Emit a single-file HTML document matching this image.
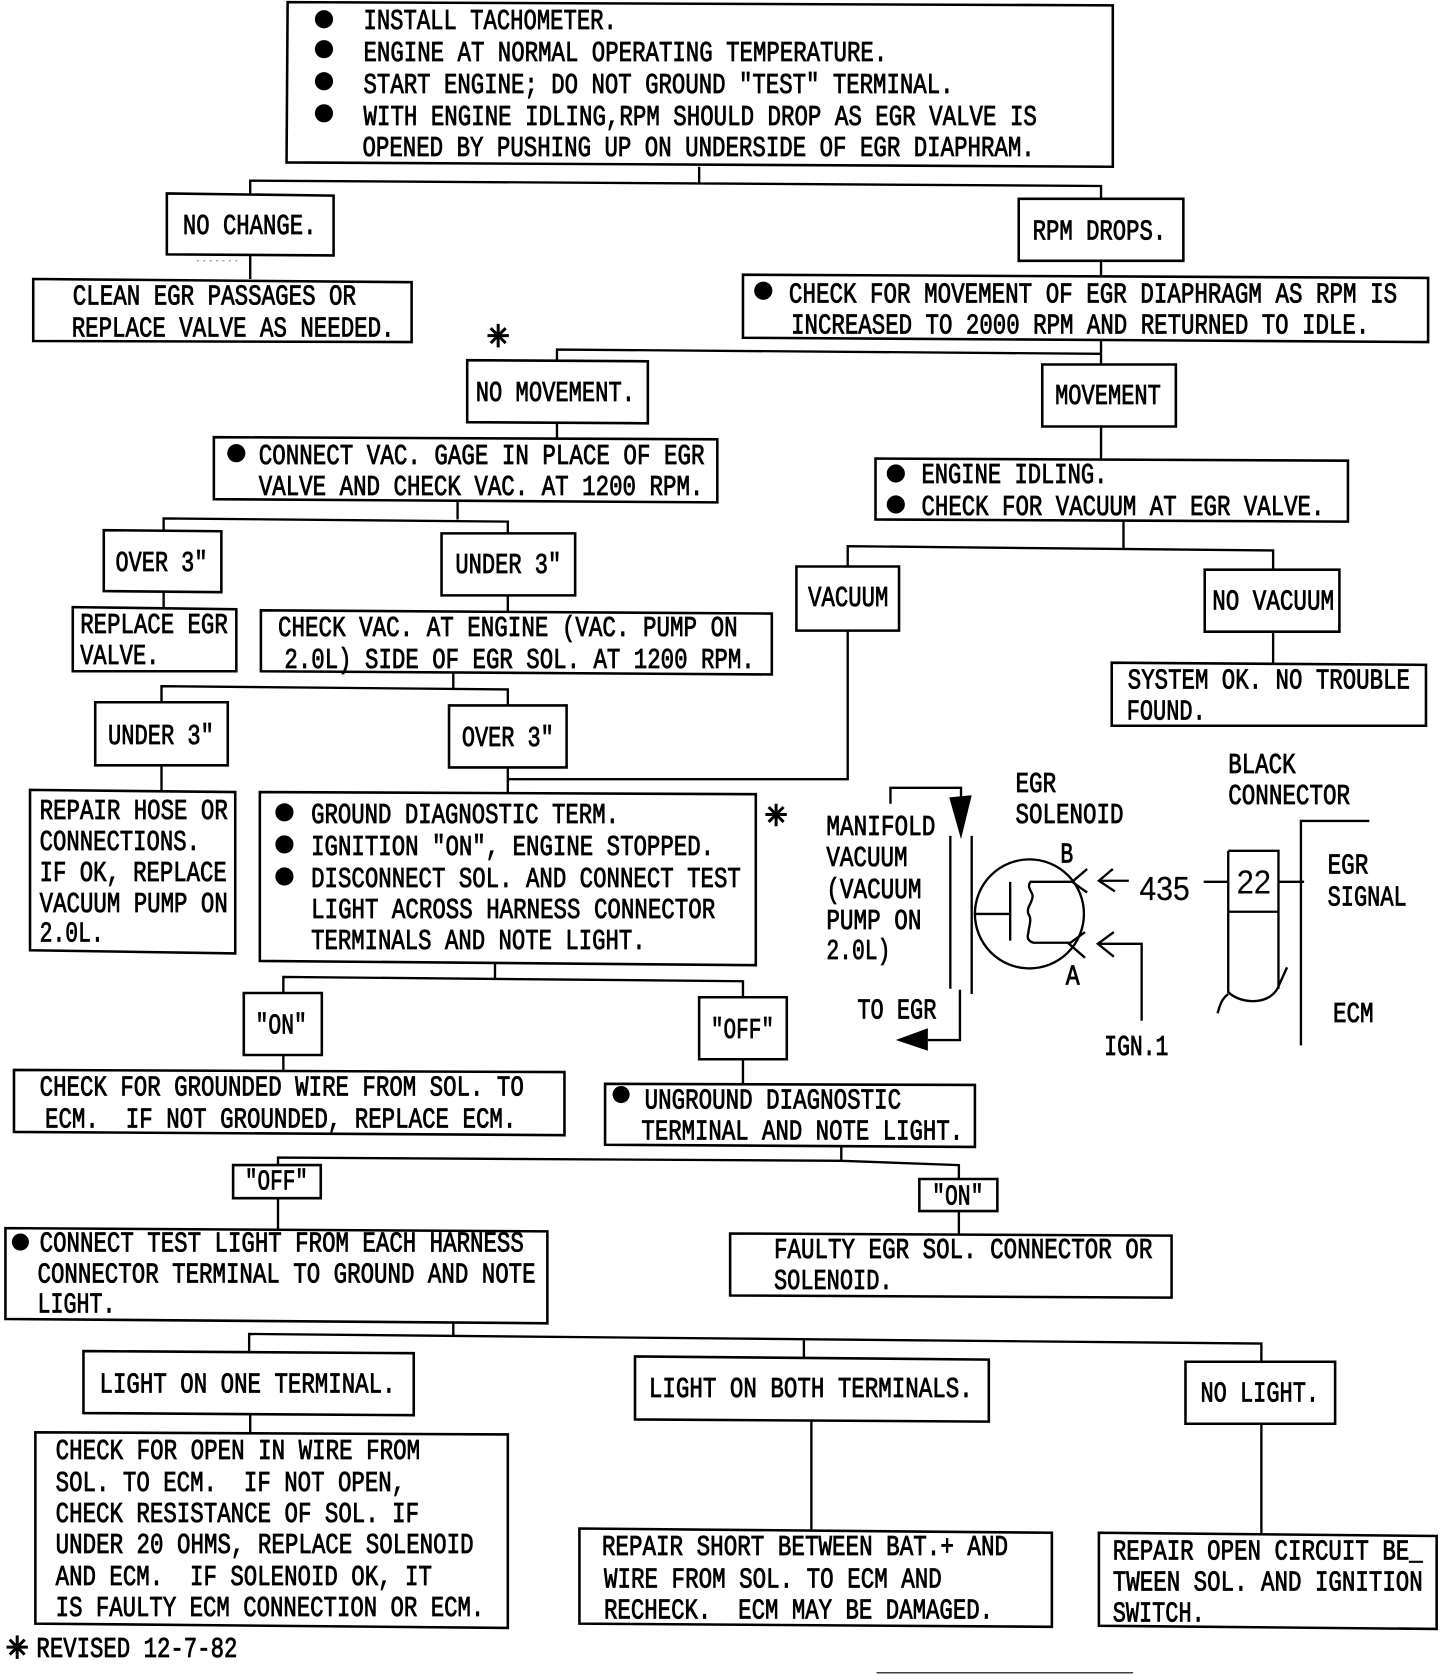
<!DOCTYPE html>
<html><head><meta charset="utf-8"><style>
html,body{margin:0;padding:0;background:#fff}
svg{display:block}
text{font-family:"Liberation Mono",monospace;font-size:27px;fill:#000;stroke:#000;stroke-width:.8}
.b{fill:#fff;stroke:#000;stroke-width:2.4}
.l{fill:none;stroke:#000;stroke-width:2.2}
</style></head><body>
<svg xmlns="http://www.w3.org/2000/svg" width="1456" height="1676" viewBox="0 0 1362 1568">
<rect width="1362" height="1568" fill="#fff"/>
<path class="l" d="M654 156V171M234 181V169L1030 174V186M234 238V261M1030 244V258M1030 318V341M521 337V327L1030 331M521 395V410M428 469V486M153 497V485L475 488V499M1030 399V430M1051 487V513M793 530V511L1191 515V533M793 590V729H475M475 718V743M1191 591V621M153 554V568M475 557V572M424 630V644M151 657V642L475 645V660M151 716V740M463 901V916M265 929V914L695 918V933M265 987V1002M695 991V1014M787 1072V1087M260 1090V1083L787 1086L897 1090V1103M260 1121V1150M897 1133V1155M424 1236V1250M233 1264V1248L1180 1257V1274M752 1252V1270M234 1323V1341M759 1329V1431M1180 1332V1435"/>
<g class="b">
<polygon points="269,2 1041,5 1041,156 268,152"/>
<polygon points="156,181 312,183 312,239 156,238"/>
<polygon points="31,261 385,264 385,320 31,319"/>
<polygon points="953,186 1107,186 1107,244 953,244"/>
<polygon points="695,257 1336,260 1336,320 695,316"/>
<polygon points="437,337 606,338 606,396 437,395"/>
<polygon points="975,341 1100,341 1100,399 975,399"/>
<polygon points="200,409 671,411 671,470 200,467"/>
<polygon points="819,429 1261,431 1261,488 819,486"/>
<polygon points="97,496 207,497 207,554 97,553"/>
<polygon points="413,499 538,499 538,557 413,557"/>
<polygon points="745,530 841,530 841,590 745,590"/>
<polygon points="1127,533 1253,533 1253,591 1127,591"/>
<polygon points="68,568 221,570 221,628 68,628"/>
<polygon points="244,571 722,574 722,631 244,628"/>
<polygon points="1040,620 1334,622 1334,679 1040,679"/>
<polygon points="89,657 213,657 213,716 89,716"/>
<polygon points="420,660 530,660 530,718 420,718"/>
<polygon points="28,739 220,741 220,892 28,889"/>
<polygon points="243,741 707,743 707,903 243,899"/>
<polygon points="228,929 301,929 301,987 228,987"/>
<polygon points="654,933 736,933 736,991 654,991"/>
<polygon points="13,1001 528,1003 528,1062 13,1059"/>
<polygon points="566,1014 912,1015 912,1073 566,1071"/>
<polygon points="218,1090 300,1090 300,1121 218,1121"/>
<polygon points="860,1103 933,1103 933,1133 860,1133"/>
<polygon points="5,1149 512,1152 512,1238 5,1234"/>
<polygon points="683,1154 1096,1156 1096,1214 683,1212"/>
<polygon points="78,1264 387,1266 387,1324 78,1322"/>
<polygon points="594,1269 925,1272 925,1330 594,1328"/>
<polygon points="1109,1274 1249,1274 1249,1332 1109,1332"/>
<polygon points="33,1340 475,1342 475,1523 33,1519"/>
<polygon points="542,1430 984,1434 984,1522 542,1519"/>
<polygon points="1028,1434 1344,1437 1344,1524 1028,1521"/>
</g>
<g fill="#000">
<circle cx="303" cy="18" r="8.5"/><circle cx="303" cy="46" r="8.5"/><circle cx="303" cy="76" r="8.5"/><circle cx="303" cy="106" r="8.5"/>
<circle cx="714" cy="272" r="8.5"/><circle cx="221" cy="424" r="8.5"/><circle cx="838" cy="443" r="8.5"/><circle cx="838" cy="472" r="8.5"/>
<circle cx="266" cy="760" r="8.5"/><circle cx="266" cy="790" r="8.5"/><circle cx="266" cy="820" r="8.5"/><circle cx="581" cy="1024" r="8"/><circle cx="19" cy="1162" r="8"/>
</g>
<g>
<text x="340" y="27" textLength="237" lengthAdjust="spacingAndGlyphs">INSTALL TACHOMETER.</text>
<text x="340" y="57" textLength="490" lengthAdjust="spacingAndGlyphs">ENGINE AT NORMAL OPERATING TEMPERATURE.</text>
<text x="340" y="87" textLength="552" lengthAdjust="spacingAndGlyphs">START ENGINE; DO NOT GROUND "TEST" TERMINAL.</text>
<text x="340" y="117" textLength="630" lengthAdjust="spacingAndGlyphs">WITH ENGINE IDLING,RPM SHOULD DROP AS EGR VALVE IS</text>
<text x="339" y="146" textLength="629" lengthAdjust="spacingAndGlyphs">OPENED BY PUSHING UP ON UNDERSIDE OF EGR DIAPHRAM.</text>
<text x="171" y="219" textLength="125" lengthAdjust="spacingAndGlyphs">NO CHANGE.</text>
<text x="966" y="224" textLength="125" lengthAdjust="spacingAndGlyphs">RPM DROPS.</text>
<text x="68" y="285" textLength="265" lengthAdjust="spacingAndGlyphs">CLEAN EGR PASSAGES OR</text>
<text x="67" y="315" textLength="302" lengthAdjust="spacingAndGlyphs">REPLACE VALVE AS NEEDED.</text>
<text x="738" y="283" textLength="569" lengthAdjust="spacingAndGlyphs">CHECK FOR MOVEMENT OF EGR DIAPHRAGM AS RPM IS</text>
<text x="740" y="312" textLength="541" lengthAdjust="spacingAndGlyphs">INCREASED TO 2000 RPM AND RETURNED TO IDLE.</text>
<text x="445" y="375" textLength="149" lengthAdjust="spacingAndGlyphs">NO MOVEMENT.</text>
<text x="987" y="378" textLength="99" lengthAdjust="spacingAndGlyphs">MOVEMENT</text>
<text x="242" y="434" textLength="417" lengthAdjust="spacingAndGlyphs">CONNECT VAC. GAGE IN PLACE OF EGR</text>
<text x="242" y="463" textLength="416" lengthAdjust="spacingAndGlyphs">VALVE AND CHECK VAC. AT 1200 RPM.</text>
<text x="862" y="452" textLength="174" lengthAdjust="spacingAndGlyphs">ENGINE IDLING.</text>
<text x="862" y="482" textLength="377" lengthAdjust="spacingAndGlyphs">CHECK FOR VACUUM AT EGR VALVE.</text>
<text x="108" y="534" textLength="86" lengthAdjust="spacingAndGlyphs">OVER 3"</text>
<text x="426" y="536" textLength="99" lengthAdjust="spacingAndGlyphs">UNDER 3"</text>
<text x="756" y="567" textLength="75" lengthAdjust="spacingAndGlyphs">VACUUM</text>
<text x="1134" y="570" textLength="114" lengthAdjust="spacingAndGlyphs">NO VACUUM</text>
<text x="75" y="592" textLength="138" lengthAdjust="spacingAndGlyphs">REPLACE EGR</text>
<text x="75" y="621" textLength="74" lengthAdjust="spacingAndGlyphs">VALVE.</text>
<text x="260" y="595" textLength="430" lengthAdjust="spacingAndGlyphs">CHECK VAC. AT ENGINE (VAC. PUMP ON</text>
<text x="266" y="625" textLength="440" lengthAdjust="spacingAndGlyphs">2.0L) SIDE OF EGR SOL. AT 1200 RPM.</text>
<text x="1055" y="644" textLength="264" lengthAdjust="spacingAndGlyphs">SYSTEM OK. NO TROUBLE</text>
<text x="1054" y="673" textLength="74" lengthAdjust="spacingAndGlyphs">FOUND.</text>
<text x="101" y="696" textLength="99" lengthAdjust="spacingAndGlyphs">UNDER 3"</text>
<text x="432" y="698" textLength="86" lengthAdjust="spacingAndGlyphs">OVER 3"</text>
<text x="37" y="766" textLength="176" lengthAdjust="spacingAndGlyphs">REPAIR HOSE OR</text>
<text x="37" y="795" textLength="150" lengthAdjust="spacingAndGlyphs">CONNECTIONS.</text>
<text x="37" y="824" textLength="175" lengthAdjust="spacingAndGlyphs">IF OK, REPLACE</text>
<text x="37" y="853" textLength="176" lengthAdjust="spacingAndGlyphs">VACUUM PUMP ON</text>
<text x="37" y="881" textLength="60" lengthAdjust="spacingAndGlyphs">2.0L.</text>
<text x="291" y="770" textLength="288" lengthAdjust="spacingAndGlyphs">GROUND DIAGNOSTIC TERM.</text>
<text x="291" y="800" textLength="377" lengthAdjust="spacingAndGlyphs">IGNITION "ON", ENGINE STOPPED.</text>
<text x="291" y="830" textLength="402" lengthAdjust="spacingAndGlyphs">DISCONNECT SOL. AND CONNECT TEST</text>
<text x="291" y="859" textLength="378" lengthAdjust="spacingAndGlyphs">LIGHT ACROSS HARNESS CONNECTOR</text>
<text x="291" y="888" textLength="313" lengthAdjust="spacingAndGlyphs">TERMINALS AND NOTE LIGHT.</text>
<text x="239" y="967" textLength="48" lengthAdjust="spacingAndGlyphs">"ON"</text>
<text x="665" y="971" textLength="59" lengthAdjust="spacingAndGlyphs">"OFF"</text>
<text x="37" y="1025" textLength="453" lengthAdjust="spacingAndGlyphs">CHECK FOR GROUNDED WIRE FROM SOL. TO</text>
<text x="42" y="1055" textLength="441" lengthAdjust="spacingAndGlyphs" xml:space="preserve">ECM.  IF NOT GROUNDED, REPLACE ECM.</text>
<text x="603" y="1037" textLength="240" lengthAdjust="spacingAndGlyphs">UNGROUND DIAGNOSTIC</text>
<text x="600" y="1066" textLength="301" lengthAdjust="spacingAndGlyphs">TERMINAL AND NOTE LIGHT.</text>
<text x="229" y="1113" textLength="59" lengthAdjust="spacingAndGlyphs">"OFF"</text>
<text x="872" y="1127" textLength="48" lengthAdjust="spacingAndGlyphs">"ON"</text>
<text x="37" y="1171" textLength="453" lengthAdjust="spacingAndGlyphs">CONNECT TEST LIGHT FROM EACH HARNESS</text>
<text x="35" y="1200" textLength="466" lengthAdjust="spacingAndGlyphs">CONNECTOR TERMINAL TO GROUND AND NOTE</text>
<text x="35" y="1228" textLength="73" lengthAdjust="spacingAndGlyphs">LIGHT.</text>
<text x="724" y="1177" textLength="354" lengthAdjust="spacingAndGlyphs">FAULTY EGR SOL. CONNECTOR OR</text>
<text x="724" y="1206" textLength="111" lengthAdjust="spacingAndGlyphs">SOLENOID.</text>
<text x="93" y="1303" textLength="277" lengthAdjust="spacingAndGlyphs">LIGHT ON ONE TERMINAL.</text>
<text x="607" y="1307" textLength="303" lengthAdjust="spacingAndGlyphs">LIGHT ON BOTH TERMINALS.</text>
<text x="1123" y="1311" textLength="111" lengthAdjust="spacingAndGlyphs">NO LIGHT.</text>
<text x="52" y="1365" textLength="341" lengthAdjust="spacingAndGlyphs">CHECK FOR OPEN IN WIRE FROM</text>
<text x="52" y="1395" textLength="327" lengthAdjust="spacingAndGlyphs" xml:space="preserve">SOL. TO ECM.  IF NOT OPEN,</text>
<text x="52" y="1424" textLength="340" lengthAdjust="spacingAndGlyphs">CHECK RESISTANCE OF SOL. IF</text>
<text x="52" y="1453" textLength="391" lengthAdjust="spacingAndGlyphs">UNDER 20 OHMS, REPLACE SOLENOID</text>
<text x="52" y="1483" textLength="352" lengthAdjust="spacingAndGlyphs" xml:space="preserve">AND ECM.  IF SOLENOID OK, IT</text>
<text x="52" y="1512" textLength="401" lengthAdjust="spacingAndGlyphs">IS FAULTY ECM CONNECTION OR ECM.</text>
<text x="34" y="1550" textLength="188" lengthAdjust="spacingAndGlyphs">REVISED 12-7-82</text>
<text x="563" y="1455" textLength="380" lengthAdjust="spacingAndGlyphs">REPAIR SHORT BETWEEN BAT.+ AND</text>
<text x="565" y="1485" textLength="316" lengthAdjust="spacingAndGlyphs">WIRE FROM SOL. TO ECM AND</text>
<text x="565" y="1514" textLength="364" lengthAdjust="spacingAndGlyphs" xml:space="preserve">RECHECK.  ECM MAY BE DAMAGED.</text>
<text x="1041" y="1459" textLength="290" lengthAdjust="spacingAndGlyphs">REPAIR OPEN CIRCUIT BE_</text>
<text x="1041" y="1488" textLength="290" lengthAdjust="spacingAndGlyphs">TWEEN SOL. AND IGNITION</text>
<text x="1041" y="1517" textLength="86" lengthAdjust="spacingAndGlyphs">SWITCH.</text>
<text x="773" y="781" textLength="102" lengthAdjust="spacingAndGlyphs">MANIFOLD</text>
<text x="773" y="810" textLength="76" lengthAdjust="spacingAndGlyphs">VACUUM</text>
<text x="773" y="840" textLength="89" lengthAdjust="spacingAndGlyphs">(VACUUM</text>
<text x="773" y="869" textLength="89" lengthAdjust="spacingAndGlyphs">PUMP ON</text>
<text x="773" y="897" textLength="60" lengthAdjust="spacingAndGlyphs">2.0L)</text>
<text x="802" y="953" textLength="74" lengthAdjust="spacingAndGlyphs">TO EGR</text>
<text x="950" y="741" textLength="38" lengthAdjust="spacingAndGlyphs">EGR</text>
<text x="950" y="770" textLength="101" lengthAdjust="spacingAndGlyphs">SOLENOID</text>
<text x="1149" y="723" textLength="63" lengthAdjust="spacingAndGlyphs">BLACK</text>
<text x="1149" y="752" textLength="114" lengthAdjust="spacingAndGlyphs">CONNECTOR</text>
<text x="1242" y="817" textLength="38" lengthAdjust="spacingAndGlyphs">EGR</text>
<text x="1242" y="847" textLength="74" lengthAdjust="spacingAndGlyphs">SIGNAL</text>
<text x="1247" y="956" textLength="38" lengthAdjust="spacingAndGlyphs">ECM</text>
<text x="1033" y="987" textLength="60" lengthAdjust="spacingAndGlyphs">IGN.1</text>
<text x="992" y="807" textLength="12" lengthAdjust="spacingAndGlyphs">B</text>
<text x="997" y="921" textLength="13" lengthAdjust="spacingAndGlyphs">A</text>
<text x="1066" y="842" textLength="47" lengthAdjust="spacingAndGlyphs" style="font-family:'Liberation Sans',sans-serif;font-size:31px;stroke-width:.2">435</text>
<text x="1157" y="836" textLength="32" lengthAdjust="spacingAndGlyphs" style="font-family:'Liberation Sans',sans-serif;font-size:31px;stroke-width:.1">22</text>
</g>
<path class="l" style="stroke-width:2.8" d="M456 314H476M466 303V325M459 307L473 321M473 307L459 321M716 762H736M726 752V773M719 755L733 769M733 755L719 769M6 1541H26M16 1530V1552M9 1534L23 1548M23 1534L9 1548"/>
<path class="l" d="M833 752V737H899V748M889 782V925M909 782V930M898 926V973H868M911 855H945M945 825V880M1003 825H964C960 830 966 835 966 838C966 845 960 848 962 855C966 860 962 868 962 873C960 878 963 881 967 882H1002M1017 813L1003 825L1017 835M1015 872L1000 883L1015 896M1056 824H1028M1041 813L1028 824L1043 834M1126 825H1149M1196 825H1220M1068 955V883H1028M1042 872L1027 883L1042 895M1281 768H1217V978M1149 796H1196V925M1149 853H1196M1149 796V928C1158 938 1185 942 1195 925L1204 905M1149 930C1142 935 1141 942 1139 948"/>
<ellipse cx="963" cy="855" rx="51" ry="51" class="l"/>
<polygon points="888,746 909,744 899,785" fill="#000"/>
<polygon points="868,962 838,973 868,983" fill="#000"/>
<path d="M820 1565H1060" stroke="#000" stroke-width="1"/>
<path d="M184 244H222" stroke="#888" stroke-width="1" stroke-dasharray="2 4"/>
</svg>
</body></html>
